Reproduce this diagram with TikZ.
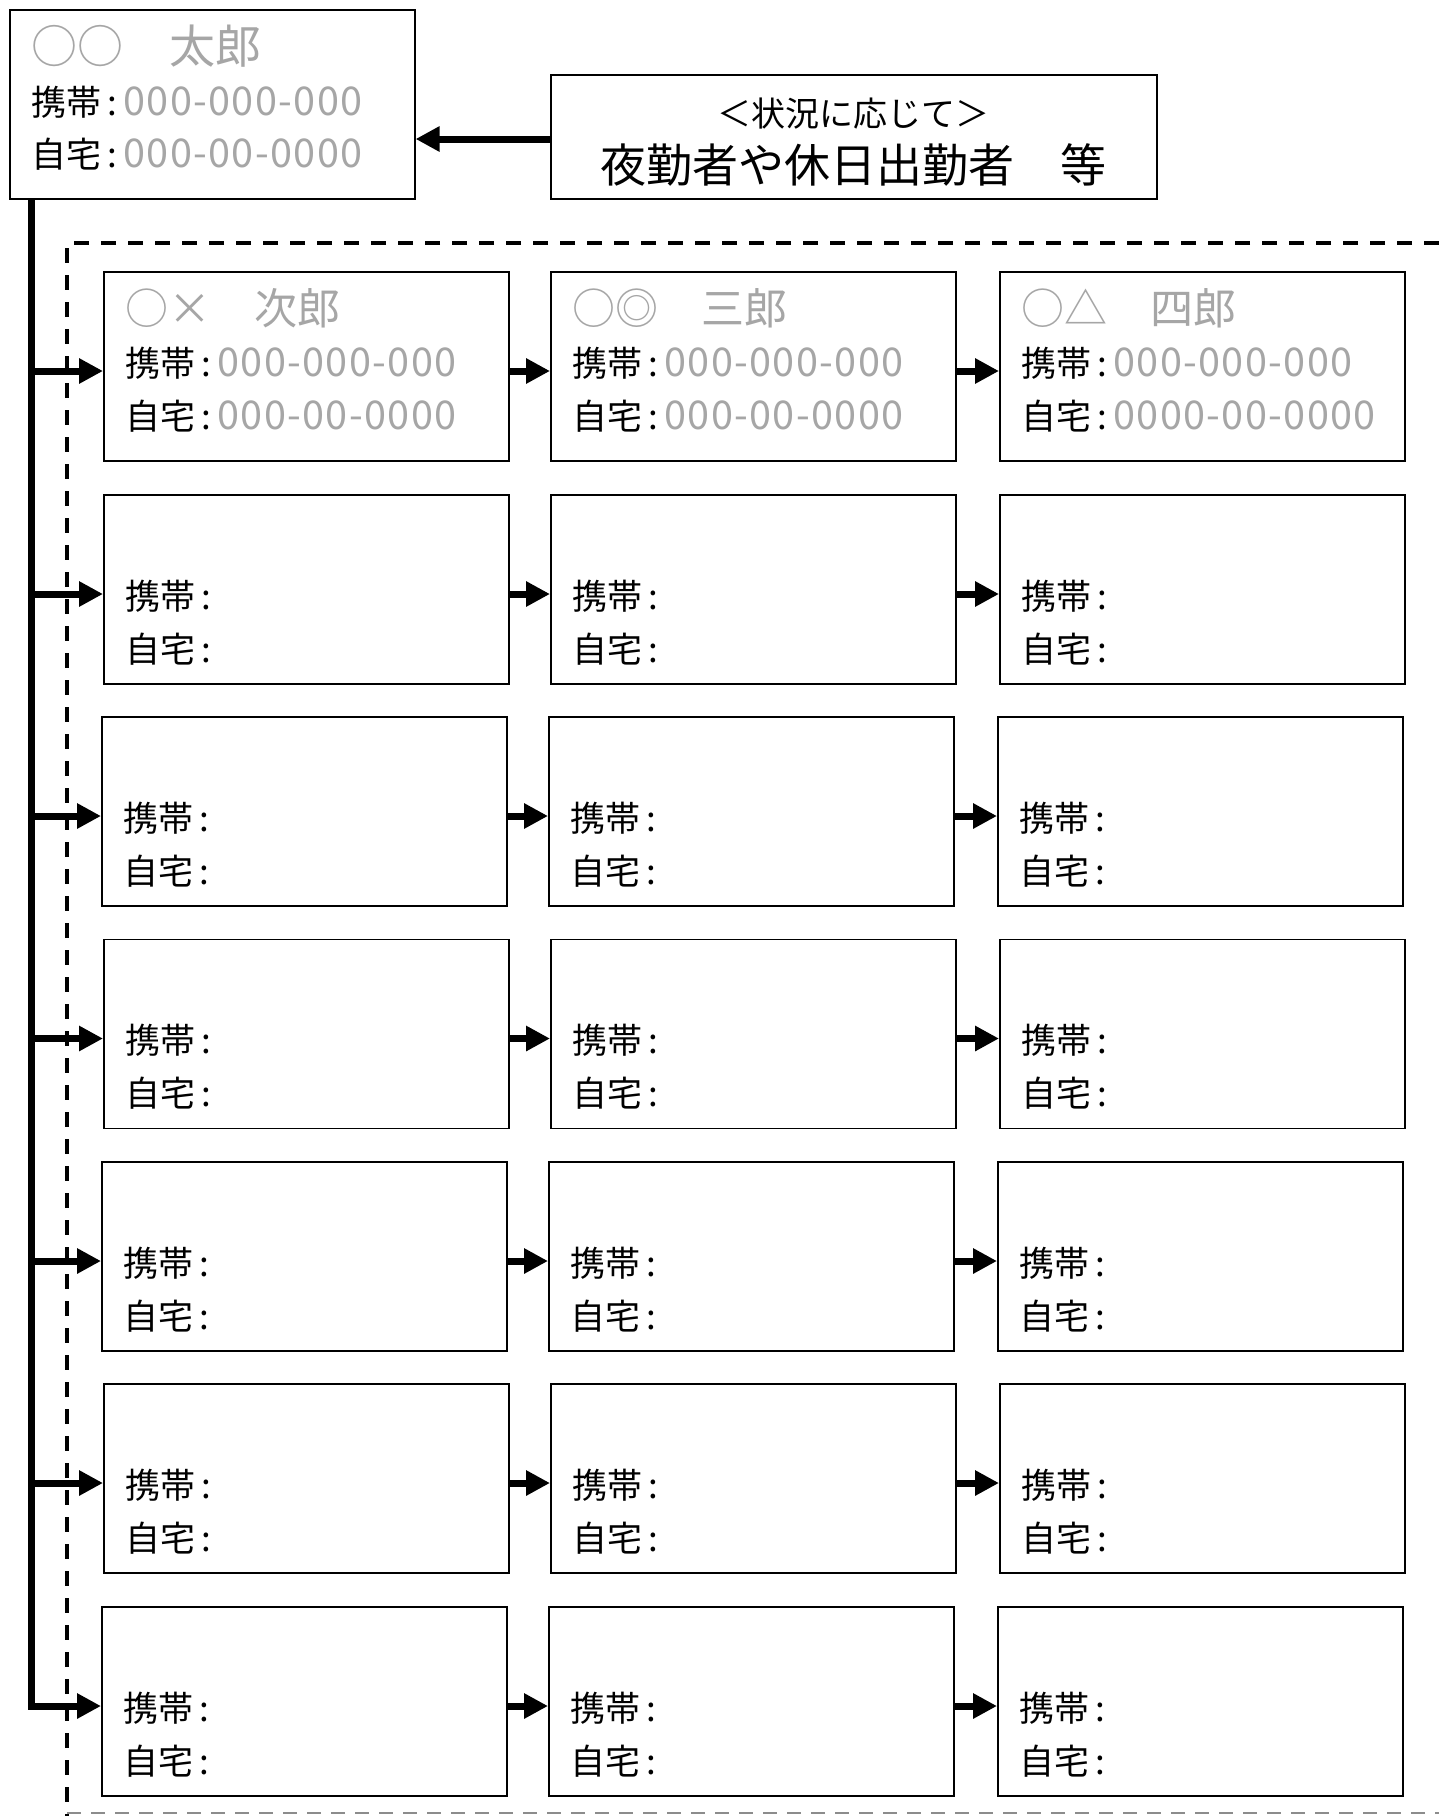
\documentclass[tikz,border=0pt]{standalone}
\usepackage{fontspec}
\setmainfont{Noto Sans CJK JP}
\usetikzlibrary{arrows.meta,calc}
\definecolor{phgray}{HTML}{A6A6A6}
\definecolor{dashgray}{HTML}{8C8C8C}
\newcommand\mycolon{\makebox[11pt]{:}}
\newcommand\phnum[1]{{\color{phgray}\fontsize{19.8pt}{22pt}\selectfont\addfontfeature{LetterSpace=3.5}#1}}
\begin{document}
\begin{tikzpicture}[x=0.5pt,y=-0.5pt,
  card/.style={draw=black, line width=0.8pt, minimum width=202.5pt, minimum height=94.5pt, inner sep=0pt, anchor=north west},
  lbl/.style={anchor=west, inner sep=0pt, font=\fontsize{17.5pt}{20pt}\selectfont},
  nm/.style={anchor=west, inner sep=0pt, text=phgray, font=\fontsize{23pt}{25pt}\selectfont},
  nmsmall/.style={nm, font=\fontsize{21.5pt}{24pt}\selectfont},
  conn/.style={line width=3.5pt, -{Triangle[length=12pt,width=12pt]}},
  trunkline/.style={line width=3.5pt, line join=miter},
  outerdash/.style={black, line width=2pt, dash pattern=on 7.5pt off 6pt},
  innerdash/.style={dashgray, line width=1pt, dash pattern=on 7pt off 5pt}]
\useasboundingbox (0,0) rectangle (1439,1816);
\fill[white] (0,0) rectangle (1439,1816);

% dashed region
\draw[outerdash] (1439,243) -- (67,243) -- (67,1816);
\draw[innerdash] (67,1813) -- (1439,1813);

% top person
\node[card] (taro) at (9,9) {};
\node[nm] (taroN) at ($(taro.north west)+(22,37)$) {○○　太郎};
\node[lbl] (taroK) at ($(taro.north west)+(22,93)$) {携帯\mycolon\phnum{000-000-000}};
\node[lbl] (taroJ) at ($(taro.north west)+(22,145)$) {自宅\mycolon\phnum{000-00-0000}};

% situation box
\node[draw, line width=0.8pt, minimum width=303pt, minimum height=62pt, inner sep=0pt, anchor=north west] (sit) at (550,74) {};
\node[inner sep=0pt, font=\fontsize{17pt}{19pt}\selectfont] (sit1) at ($(sit.north)+(0,39.5)$) {＜状況に応じて＞};
\node[inner sep=0pt, font=\fontsize{23pt}{25pt}\selectfont] (sit2) at ($(sit.north)+(0,91)$) {夜勤者や休日出勤者　等};
\coordinate (topa) at ($(sit.north west)+(0,65)$);
\draw[conn] (topa) -- (taro.east |- topa);

\coordinate (trunktop) at ($(taro.south west)+(22,0)$);

% row 1
\node[card] (b11) at (103,271) {};
\node[card] (b12) at (550,271) {};
\node[card] (b13) at (999,271) {};
\node[nmsmall] (n11) at ($(b11.north west)+(22,37)$) {○×　次郎};
\node[nmsmall] (n12) at ($(b12.north west)+(22,37)$) {○◎　三郎};
\node[nmsmall] (n13) at ($(b13.north west)+(22,37)$) {○△　四郎};
\node[lbl] (k11) at ($(b11.north west)+(22,92)$) {携帯\mycolon\phnum{000-000-000}};
\node[lbl] (j11) at ($(b11.north west)+(22,145)$) {自宅\mycolon\phnum{000-00-0000}};
\node[lbl] (k12) at ($(b12.north west)+(22,92)$) {携帯\mycolon\phnum{000-000-000}};
\node[lbl] (j12) at ($(b12.north west)+(22,145)$) {自宅\mycolon\phnum{000-00-0000}};
\node[lbl] (k13) at ($(b13.north west)+(22,92)$) {携帯\mycolon\phnum{000-000-000}};
\node[lbl] (j13) at ($(b13.north west)+(22,145)$) {自宅\mycolon\phnum{0000-00-0000}};
\coordinate (a1) at ($(b11.north west)+(0,100)$);
\draw[conn] (trunktop |- a1) -- (a1);
\draw[conn] (b11.east |- a1) -- (b12.west |- a1);
\draw[conn] (b12.east |- a1) -- (b13.west |- a1);

% rows 2-7
\foreach \r/\y/\xa/\xb/\xc in {2/494/103/550/999,3/716/101/548/997,4/938.5/103/550/999,5/1161/101/548/997,6/1383/103/550/999,7/1606/101/548/997} {
  \node[card] (b\r1) at (\xa,\y) {};
  \node[card] (b\r2) at (\xb,\y) {};
  \node[card] (b\r3) at (\xc,\y) {};
  \foreach \c in {1,2,3} {
    \node[lbl] (k\r\c) at ($(b\r\c.north west)+(22,102)$) {携帯\mycolon};
    \node[lbl] (j\r\c) at ($(b\r\c.north west)+(22,155)$) {自宅\mycolon};
  }
  \coordinate (a\r) at ($(b\r1.north west)+(0,100)$);
  \draw[conn] (b\r1.east |- a\r) -- (b\r2.west |- a\r);
  \draw[conn] (b\r2.east |- a\r) -- (b\r3.west |- a\r);
}
\foreach \r in {2,...,6} {
  \draw[conn] (trunktop |- a\r) -- (a\r);
}
\draw[trunkline] (trunktop) -- (trunktop |- a7) -- ([xshift=-23.5]a7);
\draw[conn] ([xshift=-30]a7) -- (a7);
\end{tikzpicture}
\end{document}
